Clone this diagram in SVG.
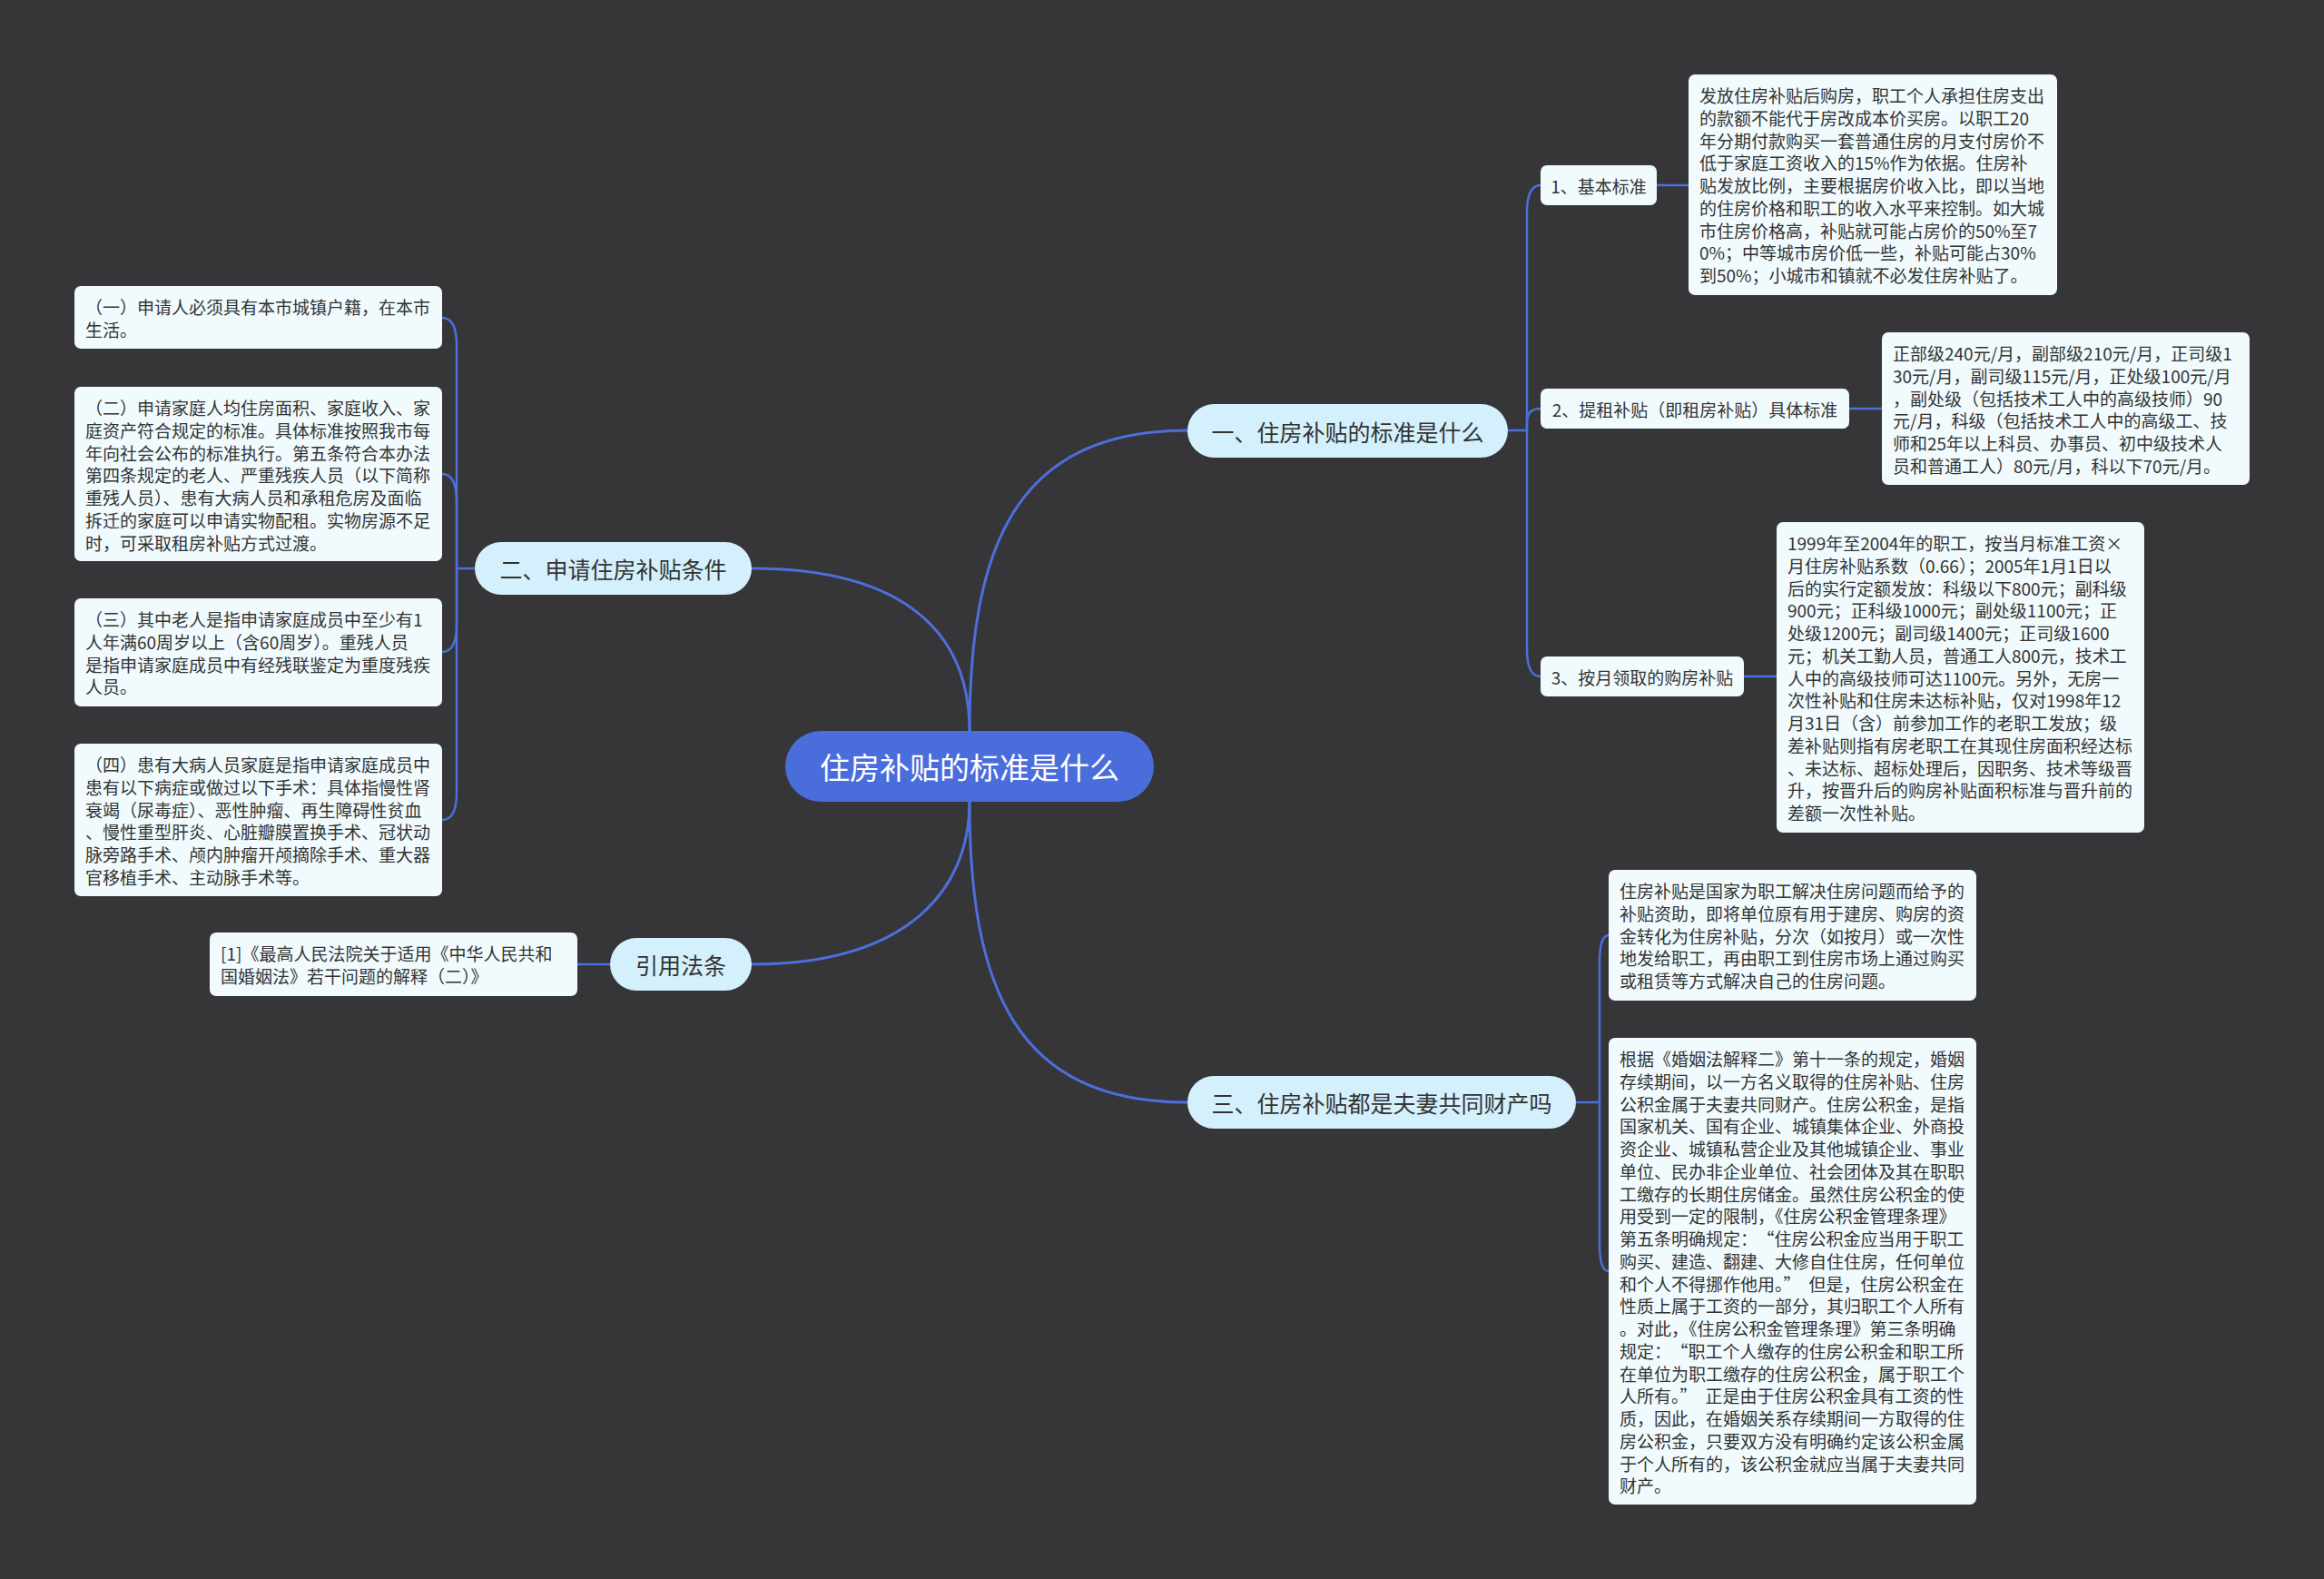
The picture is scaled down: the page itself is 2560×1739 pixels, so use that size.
<svg xmlns="http://www.w3.org/2000/svg" width="2560" height="1739" viewBox="0 0 2560 1739">
<style>
.bg{fill:#363538}
.root{fill:#4a6ddc}
.l1{fill:#d4f0fc}
.l2{fill:#f1fbfe}
.box{fill:#f1fbfe}
.conn{fill:none;stroke:#4d6fdc;stroke-width:3}
.sub{fill:none;stroke:#4d6fdc;stroke-width:2.5}
text{font-family:"Noto Sans CJK SC","Noto Sans",sans-serif;fill:#333333}
.rt{font-size:33px;fill:#ffffff}
.t1{font-size:25px}
.t2{font-size:19px}
.tb{font-size:19px}
</style>
<rect class="bg" x="0" y="0" width="2560" height="1739"/>

<g id="connectors">
<path class="conn" d="M1068,805 C1068,600 1120,474 1308,474"/>
<path class="conn" d="M1068,805 C1068,700 1000,626 828,626"/>
<path class="conn" d="M1068,883 C1068,980 1000,1062 828,1062"/>
<path class="conn" d="M1068,883 C1068,1090 1120,1214 1308,1214"/>
<path class="sub" d="M1661,474 H1682 V234 Q1682,204 1697,204"/>
<path class="sub" d="M1682,474 V465 Q1682,450 1697,450"/>
<path class="sub" d="M1682,474 V715 Q1682,745 1697,745"/>
<path class="sub" d="M1825,204 H1860"/>
<path class="sub" d="M2037,450 H2073"/>
<path class="sub" d="M1921,745 H1957"/>
<path class="sub" d="M1736,1214 H1762 V1060 Q1762,1030 1772,1030"/>
<path class="sub" d="M1762,1214 V1370 Q1762,1400 1772,1400"/>
<path class="sub" d="M523,626 H503 V380 Q503,350 487,350"/>
<path class="sub" d="M503,626 V552 Q503,522 487,522"/>
<path class="sub" d="M503,626 V688 Q503,718 487,718"/>
<path class="sub" d="M503,626 V873 Q503,903 487,903"/>
<path class="sub" d="M672,1062 H636"/>
</g>

<g id="root">
<rect class="root" x="865" y="805" width="406" height="78" rx="39"/>
<text class="rt" x="1068" y="844" text-anchor="middle" dominant-baseline="central">住房补贴的标准是什么</text>
</g>

<g id="n1">
<rect class="l1" x="1308" y="445" width="353" height="59" rx="29.5"/>
<text class="t1" x="1484.5" y="474.5" text-anchor="middle" dominant-baseline="central">一、住房补贴的标准是什么</text>
</g>
<g id="n2">
<rect class="l1" x="523" y="597" width="305" height="58" rx="29"/>
<text class="t1" x="675.5" y="626" text-anchor="middle" dominant-baseline="central">二、申请住房补贴条件</text>
</g>
<g id="n3">
<rect class="l1" x="672" y="1033" width="156" height="58" rx="29"/>
<text class="t1" x="750" y="1062" text-anchor="middle" dominant-baseline="central">引用法条</text>
</g>
<g id="n4">
<rect class="l1" x="1308" y="1185" width="428" height="58" rx="29"/>
<text class="t1" x="1522" y="1214" text-anchor="middle" dominant-baseline="central">三、住房补贴都是夫妻共同财产吗</text>
</g>

<g id="n1-1">
<rect class="l2" x="1697" y="182" width="128" height="44" rx="7"/>
<text class="t2" x="1761" y="204" text-anchor="middle" dominant-baseline="central">1、基本标准</text>
</g>
<g id="n1-2">
<rect class="l2" x="1697" y="428" width="340" height="44" rx="7"/>
<text class="t2" x="1867" y="450" text-anchor="middle" dominant-baseline="central">2、提租补贴（即租房补贴）具体标准</text>
</g>
<g id="n1-3">
<rect class="l2" x="1697" y="723" width="224" height="44" rx="7"/>
<text class="t2" x="1809" y="745" text-anchor="middle" dominant-baseline="central">3、按月领取的购房补贴</text>
</g>

<g id="b1">
<rect class="box" x="1860" y="82" width="406" height="243" rx="7"/>
<text class="tb" x="1872" y="113"><tspan x="1872" dy="0">发放住房补贴后购房，职工个人承担住房支出</tspan><tspan x="1872" dy="24.75">的款额不能代于房改成本价买房。以职工20</tspan><tspan x="1872" dy="24.75">年分期付款购买一套普通住房的月支付房价不</tspan><tspan x="1872" dy="24.75">低于家庭工资收入的15%作为依据。住房补</tspan><tspan x="1872" dy="24.75">贴发放比例，主要根据房价收入比，即以当地</tspan><tspan x="1872" dy="24.75">的住房价格和职工的收入水平来控制。如大城</tspan><tspan x="1872" dy="24.75">市住房价格高，补贴就可能占房价的50%至7</tspan><tspan x="1872" dy="24.75">0%；中等城市房价低一些，补贴可能占30%</tspan><tspan x="1872" dy="24.75">到50%；小城市和镇就不必发住房补贴了。</tspan></text>
</g>

<g id="b2">
<rect class="box" x="2073" y="366" width="405" height="168" rx="7"/>
<text class="tb" x="2085" y="397"><tspan x="2085" dy="0">正部级240元/月，副部级210元/月，正司级1</tspan><tspan x="2085" dy="24.75">30元/月，副司级115元/月，正处级100元/月</tspan><tspan x="2085" dy="24.75">，副处级（包括技术工人中的高级技师）90</tspan><tspan x="2085" dy="24.75">元/月，科级（包括技术工人中的高级工、技</tspan><tspan x="2085" dy="24.75">师和25年以上科员、办事员、初中级技术人</tspan><tspan x="2085" dy="24.75">员和普通工人）80元/月，科以下70元/月。</tspan></text>
</g>

<g id="b3">
<rect class="box" x="1957" y="575" width="405" height="342" rx="7"/>
<text class="tb" x="1969" y="606"><tspan x="1969" dy="0">1999年至2004年的职工，按当月标准工资×</tspan><tspan x="1969" dy="24.75">月住房补贴系数（0.66）；2005年1月1日以</tspan><tspan x="1969" dy="24.75">后的实行定额发放：科级以下800元；副科级</tspan><tspan x="1969" dy="24.75">900元；正科级1000元；副处级1100元；正</tspan><tspan x="1969" dy="24.75">处级1200元；副司级1400元；正司级1600</tspan><tspan x="1969" dy="24.75">元；机关工勤人员，普通工人800元，技术工</tspan><tspan x="1969" dy="24.75">人中的高级技师可达1100元。另外，无房一</tspan><tspan x="1969" dy="24.75">次性补贴和住房未达标补贴，仅对1998年12</tspan><tspan x="1969" dy="24.75">月31日（含）前参加工作的老职工发放；级</tspan><tspan x="1969" dy="24.75">差补贴则指有房老职工在其现住房面积经达标</tspan><tspan x="1969" dy="24.75">、未达标、超标处理后，因职务、技术等级晋</tspan><tspan x="1969" dy="24.75">升，按晋升后的购房补贴面积标准与晋升前的</tspan><tspan x="1969" dy="24.75">差额一次性补贴。</tspan></text>
</g>

<g id="b4">
<rect class="box" x="1772" y="958" width="405" height="144" rx="7"/>
<text class="tb" x="1784" y="989"><tspan x="1784" dy="0">住房补贴是国家为职工解决住房问题而给予的</tspan><tspan x="1784" dy="24.75">补贴资助，即将单位原有用于建房、购房的资</tspan><tspan x="1784" dy="24.75">金转化为住房补贴，分次（如按月）或一次性</tspan><tspan x="1784" dy="24.75">地发给职工，再由职工到住房市场上通过购买</tspan><tspan x="1784" dy="24.75">或租赁等方式解决自己的住房问题。</tspan></text>
</g>

<g id="b5">
<rect class="box" x="1772" y="1143" width="405" height="514" rx="7"/>
<text class="tb" x="1784" y="1174"><tspan x="1784" dy="0">根据《婚姻法解释二》第十一条的规定，婚姻</tspan><tspan x="1784" dy="24.75">存续期间，以一方名义取得的住房补贴、住房</tspan><tspan x="1784" dy="24.75">公积金属于夫妻共同财产。住房公积金，是指</tspan><tspan x="1784" dy="24.75">国家机关、国有企业、城镇集体企业、外商投</tspan><tspan x="1784" dy="24.75">资企业、城镇私营企业及其他城镇企业、事业</tspan><tspan x="1784" dy="24.75">单位、民办非企业单位、社会团体及其在职职</tspan><tspan x="1784" dy="24.75">工缴存的长期住房储金。虽然住房公积金的使</tspan><tspan x="1784" dy="24.75">用受到一定的限制，《住房公积金管理条理》</tspan><tspan x="1784" dy="24.75">第五条明确规定：<tspan dx="9">“</tspan>住房公积金应当用于职工</tspan><tspan x="1784" dy="24.75">购买、建造、翻建、大修自住住房，任何单位</tspan><tspan x="1784" dy="24.75">和个人不得挪作他用。”<tspan dx="9">但是，住房公积金在</tspan></tspan><tspan x="1784" dy="24.75">性质上属于工资的一部分，其归职工个人所有</tspan><tspan x="1784" dy="24.75">。对此，《住房公积金管理条理》第三条明确</tspan><tspan x="1784" dy="24.75">规定：<tspan dx="9">“</tspan>职工个人缴存的住房公积金和职工所</tspan><tspan x="1784" dy="24.75">在单位为职工缴存的住房公积金，属于职工个</tspan><tspan x="1784" dy="24.75">人所有。”<tspan dx="9">正是由于住房公积金具有工资的性</tspan></tspan><tspan x="1784" dy="24.75">质，因此，在婚姻关系存续期间一方取得的住</tspan><tspan x="1784" dy="24.75">房公积金，只要双方没有明确约定该公积金属</tspan><tspan x="1784" dy="24.75">于个人所有的，该公积金就应当属于夫妻共同</tspan><tspan x="1784" dy="24.75">财产。</tspan></text>
</g>

<g id="bA">
<rect class="box" x="82" y="315" width="405" height="69" rx="7"/>
<text class="tb" x="94" y="346"><tspan x="94" dy="0">（一）申请人必须具有本市城镇户籍，在本市</tspan><tspan x="94" dy="24.75">生活。</tspan></text>
</g>

<g id="bB">
<rect class="box" x="82" y="426" width="405" height="192" rx="7"/>
<text class="tb" x="94" y="457"><tspan x="94" dy="0">（二）申请家庭人均住房面积、家庭收入、家</tspan><tspan x="94" dy="24.75">庭资产符合规定的标准。具体标准按照我市每</tspan><tspan x="94" dy="24.75">年向社会公布的标准执行。第五条符合本办法</tspan><tspan x="94" dy="24.75">第四条规定的老人、严重残疾人员（以下简称</tspan><tspan x="94" dy="24.75">重残人员）、患有大病人员和承租危房及面临</tspan><tspan x="94" dy="24.75">拆迁的家庭可以申请实物配租。实物房源不足</tspan><tspan x="94" dy="24.75">时，可采取租房补贴方式过渡。</tspan></text>
</g>

<g id="bC">
<rect class="box" x="82" y="659" width="405" height="119" rx="7"/>
<text class="tb" x="94" y="690"><tspan x="94" dy="0">（三）其中老人是指申请家庭成员中至少有1</tspan><tspan x="94" dy="24.75">人年满60周岁以上（含60周岁）。重残人员</tspan><tspan x="94" dy="24.75">是指申请家庭成员中有经残联鉴定为重度残疾</tspan><tspan x="94" dy="24.75">人员。</tspan></text>
</g>

<g id="bD">
<rect class="box" x="82" y="819" width="405" height="168" rx="7"/>
<text class="tb" x="94" y="850"><tspan x="94" dy="0">（四）患有大病人员家庭是指申请家庭成员中</tspan><tspan x="94" dy="24.75">患有以下病症或做过以下手术：具体指慢性肾</tspan><tspan x="94" dy="24.75">衰竭（尿毒症）、恶性肿瘤、再生障碍性贫血</tspan><tspan x="94" dy="24.75">、慢性重型肝炎、心脏瓣膜置换手术、冠状动</tspan><tspan x="94" dy="24.75">脉旁路手术、颅内肿瘤开颅摘除手术、重大器</tspan><tspan x="94" dy="24.75">官移植手术、主动脉手术等。</tspan></text>
</g>

<g id="bCite">
<rect class="box" x="231" y="1027" width="405" height="70" rx="7"/>
<text class="tb" x="243" y="1058"><tspan x="243" dy="0">[1]《最高人民法院关于适用《中华人民共和</tspan><tspan x="243" dy="24.75">国婚姻法》若干问题的解释（二）》</tspan></text>
</g>
</svg>
